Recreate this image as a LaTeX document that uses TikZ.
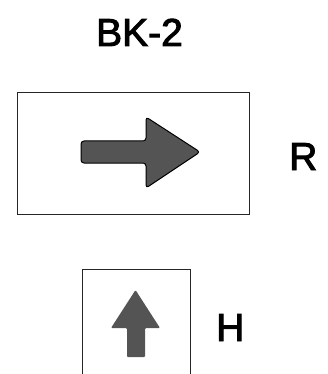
\documentclass[tikz,border=0pt]{standalone}
\usepackage{fontspec}
\newfontfamily\lblfont{Liberation Sans}[FakeBold=2.5]
\begin{document}
\begin{tikzpicture}[x=1pt,y=-1pt,
  lbl/.style={inner sep=0pt,font=\lblfont\fontsize{39}{41}\selectfont},
  frame/.style={draw=black!85,line width=0.8pt},
  arrowfill/.style={fill=black!67}]
\useasboundingbox (0,0) rectangle (327,374);
\clip (0,0) rectangle (327,374);
\node[lbl,anchor=base] (title) at (139.5,46) {BK-2};
\draw[frame] (17,92) rectangle (249,214);
\draw[arrowfill,draw=black,line width=1pt,rounded corners=3pt]
  (81,141) -- (146,141) -- (146,117) -- (200,152) -- (146,188) -- (146,163) -- (81,163) -- cycle;
\node[lbl,anchor=base west] (r) at (289,170) {R};
\draw[frame] (82,269) rectangle (190,380);
\fill[arrowfill,rounded corners=1pt]
  (127,357) -- (127,328) -- (111,328) -- (135.5,290) -- (160,328) -- (145,328) -- (145,357) -- cycle;
\node[lbl,anchor=base west] (h) at (216,341) {H};
\end{tikzpicture}
\end{document}
